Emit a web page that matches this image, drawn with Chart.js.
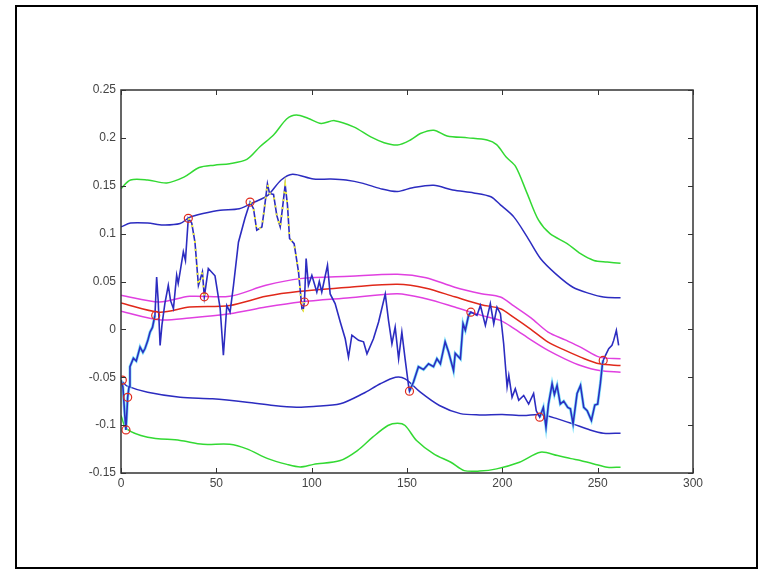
<!DOCTYPE html>
<html>
<head>
<meta charset="utf-8">
<script src="https://cdn.jsdelivr.net/npm/chart.js@4/dist/chart.umd.min.js"></script>
<style>
  html, body { margin: 0; padding: 0; background: #fff; }
  canvas { display: block; }
</style>
</head>
<body>
<canvas id="chart" width="773" height="576"></canvas>
<script>
// ==== axis ticks ====
const xTicks = [0, 50, 100, 150, 200, 250, 300];
const yTicks = [-0.15, -0.1, -0.05, 0, 0.05, 0.1, 0.15, 0.2, 0.25];

// ==== band lines ====
const greenUpX = [0, 5, 14, 24, 33, 41, 49, 57, 66, 73, 80, 87, 92, 98, 105, 112, 122, 131, 138, 145, 152, 157, 164, 171, 182, 192, 197, 202, 207, 213, 219, 225, 234, 241, 248, 255, 262];
const greenUpY = [0.147, 0.156, 0.156, 0.153, 0.159, 0.169, 0.1715, 0.173, 0.1775, 0.191, 0.203, 0.22, 0.224, 0.2205, 0.215, 0.218, 0.2115, 0.201, 0.195, 0.1925, 0.198, 0.2045, 0.208, 0.202, 0.2, 0.1977, 0.193, 0.18, 0.17, 0.142, 0.114, 0.1, 0.0896, 0.079, 0.072, 0.0704, 0.069];

const blueUpX = [0, 5, 14, 22, 31, 36, 43, 52, 62, 70, 77, 84, 90, 101, 110, 118, 127, 136, 145, 153, 164, 174, 185, 194, 199, 206, 213, 220, 228, 237, 246, 253, 262];
const blueUpY = [0.107, 0.111, 0.111, 0.109, 0.1105, 0.117, 0.121, 0.1245, 0.126, 0.133, 0.14, 0.156, 0.162, 0.157, 0.157, 0.156, 0.1525, 0.147, 0.144, 0.148, 0.1505, 0.1455, 0.1425, 0.1385, 0.13, 0.1175, 0.0966, 0.074, 0.058, 0.044, 0.0373, 0.0338, 0.033];

const midX = [0, 20, 36, 57, 76, 94, 120, 145, 160, 175, 189, 199, 206, 215, 224, 233, 241, 251, 262];
const magUpY = [0.0356, 0.0286, 0.0345, 0.0345, 0.046, 0.053, 0.0555, 0.0575, 0.054, 0.044, 0.0373, 0.0338, 0.0245, 0.012, -0.0028, -0.011, -0.0185, -0.029, -0.0307];
const redY = [0.0275, 0.018, 0.0233, 0.025, 0.0345, 0.0397, 0.044, 0.047, 0.043, 0.034, 0.0258, 0.0216, 0.0125, 0.0, -0.0133, -0.022, -0.029, -0.036, -0.0377];
const magLoY = [0.019, 0.01, 0.012, 0.0164, 0.0233, 0.0286, 0.033, 0.0373, 0.032, 0.0233, 0.0146, 0.0094, 0.001, -0.011, -0.022, -0.031, -0.0377, -0.043, -0.0447];

const blueLoX = [1, 3, 14, 31, 48, 66, 80, 92, 101, 115, 127, 136, 144, 149, 157, 167, 178, 188, 200, 211, 220, 229, 237, 246, 253, 262];
const blueLoY = [-0.055, -0.059, -0.0656, -0.0708, -0.0725, -0.076, -0.0795, -0.0813, -0.0805, -0.0777, -0.067, -0.0568, -0.05, -0.0516, -0.0656, -0.0795, -0.088, -0.0893, -0.0889, -0.09, -0.089, -0.0935, -0.0987, -0.105, -0.1084, -0.1084];

const greenLoX = [0, 3, 14, 31, 43, 57, 66, 77, 87, 94, 101, 115, 124, 132, 140, 145, 149, 155, 164, 173, 180, 188, 197, 209, 220, 229, 236, 241, 248, 255, 262];
const greenLoY = [-0.09, -0.104, -0.1126, -0.116, -0.12, -0.12, -0.1248, -0.135, -0.141, -0.1437, -0.141, -0.137, -0.1266, -0.1126, -0.1004, -0.098, -0.1004, -0.116, -0.13, -0.1388, -0.1475, -0.148, -0.1457, -0.1388, -0.1283, -0.1318, -0.135, -0.137, -0.1405, -0.144, -0.144];

// ==== signal ====
const sigX = [0, 1, 2, 2.6, 3.5, 4.2, 4.7, 6.5, 8, 10, 11.5, 12.6, 14, 15.2, 16.5, 17.8, 18.7, 19.5, 20.5, 21.5, 23, 24.8, 26, 27.5, 29.2, 30, 31, 32.7, 33.8, 35.3, 37.1, 38.8, 40.6, 42.7, 43.7, 45.8, 49.3, 52, 53.7, 55.5, 57.2, 59, 61.6, 65, 67.7, 69.5, 71.2, 73.9, 75, 76.8, 77.9, 80, 81.7, 83.5, 84.9, 86.1, 87.3, 88.4, 90.8, 93.1, 94.9, 95.5, 96.2, 97.1, 98.3, 100.1, 102.7, 104, 105.3, 108.3, 109.7, 112.3, 115, 117.6, 119.3, 121.1, 124.6, 127.2, 129, 132.4, 135.1, 138.6, 140.3, 142.1, 143.8, 145.6, 147.3, 149.1, 150.8, 151.3, 153.4, 156, 158.7, 161.3, 163.9, 165.7, 167.5, 170, 171.8, 174.4, 175.3, 178, 179.4, 180.6, 182.3, 183.5, 186.7, 188.5, 191.1, 193.7, 195.5, 197.2, 199, 200.7, 202.5, 203.4, 205.1, 206.8, 208.6, 211.2, 213.8, 216.4, 217.8, 219.6, 221.5, 222.9, 224.2, 226.1, 227.3, 228.7, 230.4, 232.2, 234.3, 235.7, 237.1, 239.2, 241, 242.7, 244.5, 246.7, 248.5, 250, 251.4, 252.5, 252.9, 254.1, 255.8, 257.5, 258.4, 259.8, 261];
const sigY = [-0.053, -0.06, -0.09, -0.105, -0.071, -0.06, -0.039, -0.03, -0.033, -0.0185, -0.024, -0.02, -0.012, -0.003, 0.002, 0.0146, 0.0547, 0.03, -0.0167, 0.005, 0.027, 0.046, 0.03, 0.0216, 0.0565, 0.048, 0.06, 0.081, 0.072, 0.116, 0.111, 0.091, 0.046, 0.06, 0.034, 0.0635, 0.056, 0.022, -0.027, 0.025, 0.018, 0.046, 0.091, 0.116, 0.133, 0.126, 0.1035, 0.107, 0.123, 0.152, 0.142, 0.141, 0.119, 0.107, 0.13, 0.151, 0.13, 0.095, 0.0895, 0.06, 0.0216, 0.02, 0.0286, 0.074, 0.046, 0.0565, 0.039, 0.05, 0.039, 0.067, 0.037, 0.027, 0.0077, -0.0098, -0.029, -0.006, -0.0115, -0.013, -0.0255, -0.0098, 0.0077, 0.037, 0.0094, -0.015, 0.0024, -0.0307, -0.0028, -0.0324, -0.0586, -0.0645, -0.055, -0.039, -0.042, -0.036, -0.039, -0.0307, -0.036, -0.013, -0.0237, -0.043, -0.025, -0.0307, 0.006, -0.0009, 0.0146, 0.018, 0.0146, 0.025, 0.0042, 0.027, 0.0059, 0.0233, 0.0164, -0.015, -0.06, -0.048, -0.071, -0.062, -0.074, -0.069, -0.078, -0.067, -0.085, -0.0917, -0.0815, -0.102, -0.078, -0.0568, -0.068, -0.0586, -0.078, -0.075, -0.0815, -0.083, -0.0987, -0.067, -0.0586, -0.0815, -0.085, -0.095, -0.079, -0.078, -0.0568, -0.036, -0.0324, -0.0272, -0.0202, -0.0167, -0.0115, -0.001, -0.0167];

// tramos coloreados de la señal (rangos en x)
const cyanRanges = [[0, 18], [151, 184], [219, 253]];
const yellowRanges = [[35, 44], [67, 97]];

// ==== circle markers ====
const markX = [0.7, 3.5, 2.6, 18.2, 35.3, 43.7, 67.7, 96.2, 151.3, 183.5, 219.6, 252.9];
const markY = [-0.053, -0.071, -0.105, 0.0146, 0.116, 0.034, 0.133, 0.0286, -0.0645, 0.018, -0.0917, -0.0324];

function toPoints(xs, ys) {
    return xs.map((x, i) => ({ x: x, y: ys[i] }));
}

function inRanges(x, ranges) {
    return ranges.some(r => x >= r[0] && x <= r[1]);
}

function partOf(ranges) {
    return sigX.map((x, i) => ({ x: x, y: inRanges(x, ranges) ? sigY[i] : null }));
}

function band(xs, ys, color, order) {
    return {
        data: toPoints(xs, ys),
        borderColor: color,
        borderWidth: 1.5,
        pointRadius: 0,
        tension: 0.3,
        order: order
    };
}

// ejes estilo matlab: caja + ticks hacia dentro + marco exterior
const matlabAxes = {
    id: "matlabAxes",
    beforeDraw(chart) {
        const ctx = chart.ctx;
        ctx.save();
        ctx.strokeStyle = "#000";
        ctx.lineWidth = 2;
        ctx.strokeRect(16, 6, 741, 562);
        ctx.restore();
    },
    afterDraw(chart) {
        const { ctx, chartArea: a, scales } = chart;
        const len = 5;
        ctx.save();
        ctx.strokeStyle = "#333";
        ctx.lineWidth = 1.5;
        ctx.strokeRect(a.left, a.top, a.right - a.left, a.bottom - a.top);
        ctx.lineWidth = 1;
        ctx.beginPath();
        for (const v of xTicks) {
            const px = Math.round(scales.x.getPixelForValue(v)) + 0.5;
            ctx.moveTo(px, a.bottom); ctx.lineTo(px, a.bottom - len);
            ctx.moveTo(px, a.top); ctx.lineTo(px, a.top + len);
        }
        for (const v of yTicks) {
            const py = Math.round(scales.y.getPixelForValue(v)) + 0.5;
            ctx.moveTo(a.left, py); ctx.lineTo(a.left + len, py);
            ctx.moveTo(a.right, py); ctx.lineTo(a.right - len, py);
        }
        ctx.stroke();
        ctx.restore();
    }
};

const tickFont = { family: "'Liberation Sans', Arial, sans-serif", size: 12 };

new Chart(document.getElementById("chart"), {
    type: "line",
    data: {
        datasets: [
            {
                type: "scatter",
                data: toPoints(markX, markY),
                borderColor: "#e02a1c",
                backgroundColor: "rgba(0,0,0,0)",
                borderWidth: 1.2,
                pointRadius: 4,
                showLine: false,
                order: 0
            },
            {
                data: partOf(yellowRanges),
                borderColor: "#f2f03a",
                borderWidth: 2,
                borderDash: [2, 6],
                pointRadius: 0,
                spanGaps: false,
                order: 1
            },
            {
                data: toPoints(sigX, sigY),
                borderColor: "#2c2cc0",
                borderWidth: 1.6,
                pointRadius: 0,
                order: 2
            },
            {
                data: partOf(cyanRanges),
                borderColor: "#7fe3fa",
                borderWidth: 3,
                pointRadius: 0,
                spanGaps: false,
                order: 3
            },
            band(greenUpX, greenUpY, "#33d933", 4),
            band(blueUpX, blueUpY, "#2c2cc0", 4),
            band(midX, magUpY, "#e040e0", 4),
            band(midX, redY, "#e0281a", 4),
            band(midX, magLoY, "#e040e0", 4),
            band(blueLoX, blueLoY, "#2c2cc0", 4),
            band(greenLoX, greenLoY, "#33d933", 4)
        ]
    },
    options: {
        responsive: false,
        animation: false,
        layout: { padding: { left: 0, right: 80, top: 90, bottom: 0 } },
        plugins: { legend: { display: false }, tooltip: { enabled: false } },
        scales: {
            x: {
                type: "linear",
                min: 0,
                max: 300,
                afterBuildTicks: s => { s.ticks = xTicks.map(v => ({ value: v })); },
                afterFit: s => { s.height = 103; },
                grid: { display: false, drawTicks: false },
                border: { display: false },
                ticks: { color: "#444", font: tickFont, padding: 3, maxRotation: 0, callback: v => String(v) }
            },
            y: {
                type: "linear",
                min: -0.15,
                max: 0.25,
                afterBuildTicks: s => { s.ticks = yTicks.map(v => ({ value: v })); },
                afterFit: s => { s.width = 121; },
                grid: { display: false, drawTicks: false },
                border: { display: false },
                ticks: { color: "#444", font: tickFont, padding: 5, callback: v => String(Number(v.toFixed(2))) }
            }
        }
    },
    plugins: [matlabAxes]
});
</script>
</body>
</html>
